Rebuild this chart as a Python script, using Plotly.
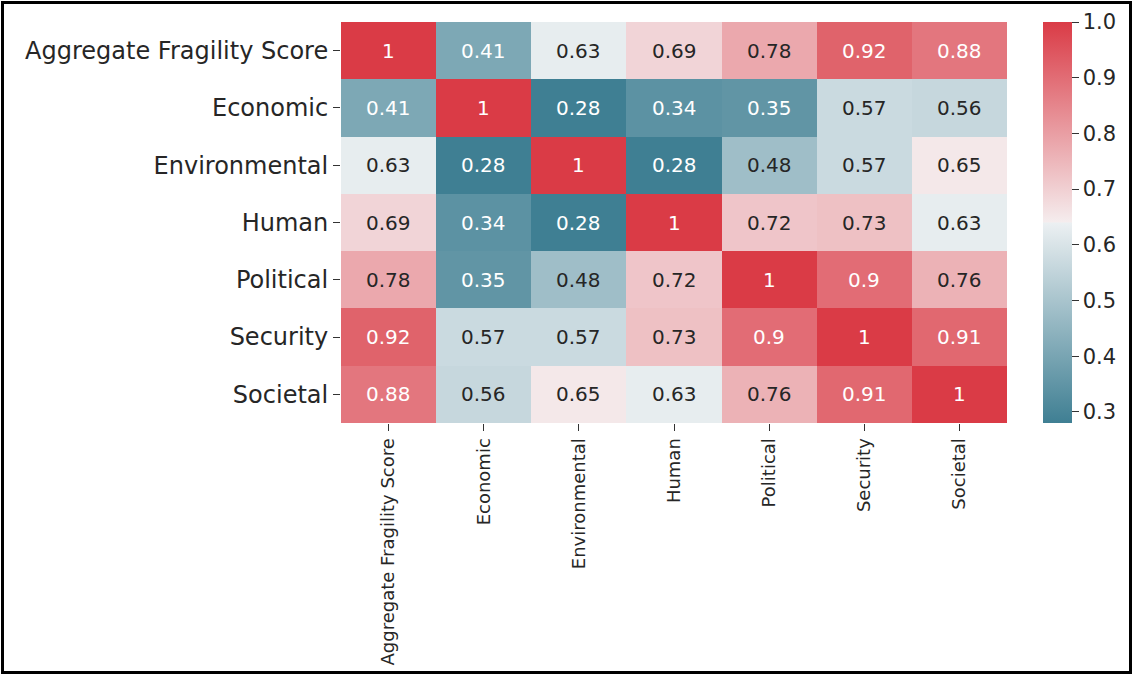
import plotly.graph_objects as go

# ---- data ----
labels = ["Aggregate Fragility Score", "Economic", "Environmental", "Human",
          "Political", "Security", "Societal"]
row_afs = [1.00, 0.41, 0.63, 0.69, 0.78, 0.92, 0.88]
row_eco = [0.41, 1.00, 0.28, 0.34, 0.35, 0.57, 0.56]
row_env = [0.63, 0.28, 1.00, 0.28, 0.48, 0.57, 0.65]
row_hum = [0.69, 0.34, 0.28, 1.00, 0.72, 0.73, 0.63]
row_pol = [0.78, 0.35, 0.48, 0.72, 1.00, 0.90, 0.76]
row_sec = [0.92, 0.57, 0.57, 0.73, 0.90, 1.00, 0.91]
row_soc = [0.88, 0.56, 0.65, 0.63, 0.76, 0.91, 1.00]
cbar_ticks = [0.3, 0.4, 0.5, 0.6, 0.7, 0.8, 0.9, 1.0]
cbar_ticktext = ["0.3", "0.4", "0.5", "0.6", "0.7", "0.8", "0.9", "1.0"]

z = [row_afs, row_eco, row_env, row_hum, row_pol, row_sec, row_soc]
zmin = min(min(r) for r in z)
zmax = max(max(r) for r in z)

# seaborn diverging_palette(220, 10) approximation
stops = [(0.0, (63, 127, 147)), (0.4999, (236, 240, 242)),
         (0.5001, (245, 237, 238)), (1.0, (218, 59, 70))]
colorscale = [[p, "rgb(%d,%d,%d)" % c] for p, c in stops]


def color_at(v):
    t = (v - zmin) / (zmax - zmin)
    for (p0, c0), (p1, c1) in zip(stops[:-1], stops[1:]):
        if p0 <= t <= p1:
            f = (t - p0) / (p1 - p0) if p1 > p0 else 0
            return [c0[i] + f * (c1[i] - c0[i]) for i in range(3)]
    return list(stops[-1][1])


def lum(rgb):
    out = []
    for c in rgb:
        c = c / 255.0
        out.append(c / 12.92 if c <= 0.03928 else ((c + 0.055) / 1.055) ** 2.4)
    return 0.2126 * out[0] + 0.7152 * out[1] + 0.0722 * out[2]


L, R, T, B = 341, 126, 22, 252
W, H = 1133, 675
pw, ph = W - L - R, H - T - B

fig = go.Figure()
fig.add_trace(go.Heatmap(
    z=z, x=labels, y=labels, zmin=zmin, zmax=zmax,
    colorscale=colorscale, xgap=0, ygap=0, hoverinfo="skip",
    colorbar=dict(
        x=(1043 - L) / pw, xanchor="left", xpad=0, ypad=0,
        y=0.5, yanchor="middle",
        len=1.0, lenmode="fraction", thickness=29, thicknessmode="pixels",
        outlinewidth=0, ticks="outside", ticklen=7, tickwidth=1.3,
        tickcolor="#333333", tickvals=cbar_ticks, ticktext=cbar_ticktext,
        tickfont=dict(family="DejaVu Sans", size=21, color="#262626"),
    ),
))

annotations = []
for i, rl in enumerate(labels):
    for j, cl in enumerate(labels):
        v = z[i][j]
        txt = format(v, ".2g")
        col = "#262626" if lum(color_at(v)) > 0.408 else "#ffffff"
        annotations.append(dict(x=cl, y=rl, xref="x", yref="y", text=txt,
                                showarrow=False,
                                font=dict(family="DejaVu Sans", size=20, color=col)))

fig.update_layout(
    width=W, height=H,
    margin=dict(l=L, r=R, t=T, b=B, pad=0, autoexpand=False),
    paper_bgcolor="white", plot_bgcolor="white",
    annotations=annotations,
    xaxis=dict(tickangle=-90, ticks="outside", ticklen=7, tickwidth=1.3,
               automargin=False,
               tickcolor="#333333", showgrid=False, zeroline=False, showline=False,
               tickfont=dict(family="DejaVu Sans", size=18, color="#262626")),
    yaxis=dict(autorange="reversed", ticks="outside", ticklen=7, tickwidth=1.3,
               automargin=False,
               tickcolor="#333333", showgrid=False, zeroline=False, showline=False,
               tickfont=dict(family="DejaVu Sans", size=24, color="#262626")),
    shapes=[dict(type="rect", xref="paper", yref="paper",
                 x0=(2.5 - L) / pw, x1=(W - 2.5 - L) / pw,
                 y0=(T + ph - (H - 2.5)) / ph, y1=(T + ph - 2.5) / ph,
                 line=dict(color="black", width=3), fillcolor="rgba(0,0,0,0)",
                 layer="above")],
)

fig.write_html(
    "out.html",
    config={"displayModeBar": False},
    post_script="document.body.style.margin='0';document.body.style.padding='0';"
                "document.body.style.overflow='hidden';",
)
